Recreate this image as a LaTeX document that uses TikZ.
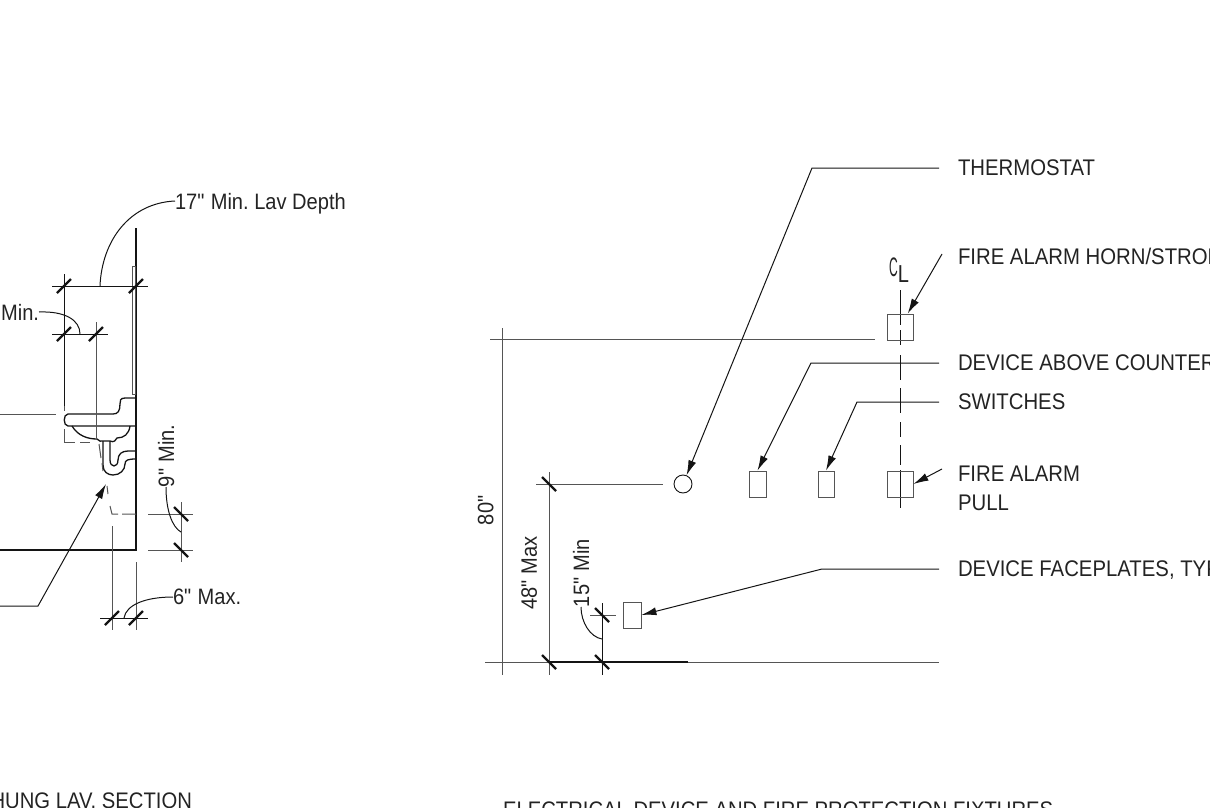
\documentclass[tikz,border=0pt]{standalone}
\usepackage{fontspec}
\setmainfont[FakeStretch=0.9]{Liberation Sans}
\usetikzlibrary{arrows.meta}
\definecolor{inkDark}{RGB}{20, 20, 20}
\definecolor{inkGray}{RGB}{85, 85, 85}
\definecolor{textGray}{RGB}{35, 35, 35}
\newcommand{\qq}{\textquotedbl{}}
\tikzset{
    dimtext/.style={font=\frenchspacing\fontsize{22.3}{26}\selectfont,text=textGray,inner sep=0pt,outer sep=0pt,text depth=0pt},
    captext/.style={dimtext,font=\frenchspacing\fontsize{22.5}{26}\selectfont},
    calltext/.style={dimtext,font=\frenchspacing\fontsize{22.6}{27}\selectfont,anchor=west,inner xsep=19pt},
    thinline/.style={inkDark,line width=1pt},
    extline/.style={inkGray,line width=1pt},
    wallline/.style={inkDark,line width=2pt},
    fixture/.style={inkDark,line width=1.3pt},
    ticks/.style={inkDark,line width=2.4pt},
    leader/.style={thinline,-{Latex[length=15pt,width=8pt]}},
    device/.style={draw=inkGray,line width=0.9pt,rectangle,inner sep=0pt,minimum width=#1,minimum height=26pt},
}
\begin{document}
\begin{tikzpicture}[x=1pt,y=-1pt]
    \useasboundingbox (0,0) rectangle (1210,808);
    \clip (0,0) rectangle (1210,808);

    % Lav section: wall and floor
    \draw[wallline] (136,228) -- (136,550) -- (0,550);
    \draw[extline] (132,266) -- (132,394) -- (135,394) -- (135,266) -- cycle;

    % Lav section: bowl and trap
    \draw[fixture] (136,398) -- (125,398) .. controls (120,398) and (120,401) .. (120,404)
        .. controls (120,411) and (118,414) .. (113,414) -- (68,414)
        .. controls (63,414) and (63,426) .. (68,426) -- (136,426);
    \draw[fixture] (72,426) .. controls (78,436) and (88,439) .. (97,439)
        .. controls (99,441) and (101,442) .. (103,441) -- (110,441)
        .. controls (114,443) and (116,440) .. (117,438)
        .. controls (124,438) and (129,434) .. (130,426);
    \draw[fixture] (103,441) -- (103,465) .. controls (103,472) and (108,475) .. (113,475)
        .. controls (120,475) and (125,470) .. (125,464)
        .. controls (125,460) and (128,459) .. (136,459);
    \draw[fixture] (110,441) -- (110,460) .. controls (110,468) and (118,468) .. (118,460)
        .. controls (118,454) and (122,451) .. (128,451) -- (136,451);

    % Lav section: hidden clearance
    \draw[extline] (64,402) -- (64,411) (64,429) -- (64,442) -- (75,442) (80,442) -- (90,442);
    \draw[extline] (99,444) -- (101,458) (102,463) -- (103,471);
    \draw[extline] (107,486) -- (108,494) (110,506) -- (112,514) -- (118,514) (122,514) -- (136,514);

    % Lav section: dimensions
    \draw[thinline] (52,286) -- (148,286);
    \draw[thinline] (52,334) -- (108,334);
    \draw[inkDark,line width=1pt] (64,274) -- (64,406);
    \draw[extline] (96,322) -- (96,440);
    \draw[extline] (0,414) -- (56,414);
    \draw[extline] (148,514) -- (193,514) (148,550) -- (193,550) (181,502) -- (181,562);
    \draw[extline] (112,526) -- (112,630) (136,562) -- (136,630);
    \draw[thinline] (100,618) -- (148,618);
    \foreach \x/\y in {64/286,136/286,64/334,96/334,112/618,136/618} {
        \draw[ticks] (\x-7,\y+7) -- (\x+7,\y-7);
    }
    \foreach \x/\y in {181/514,181/550} {
        \draw[ticks] (\x-7,\y-7) -- (\x+7,\y+7);
    }

    % Lav section: labels
    \node[dimtext,anchor=west] (depthText) at (175,201) {17\qq{} Min. Lav Depth};
    \node[dimtext,anchor=east] (kneeText) at (39,312) {Min.};
    \node[dimtext,anchor=west,rotate=90] (toeText) at (166,487) {9\qq{} Min.};
    \node[dimtext,anchor=west] (toeDepthText) at (173,597) {6\qq{} Max.};
    \node[captext,anchor=base east] (lavCaption) at (192,808) {HUNG LAV. SECTION};
    \coordinate (depthEnd) at (100,286);
    \coordinate (kneeEnd) at (80,334);
    \coordinate (toeEnd) at (181,532);
    \coordinate (toeDepthEnd) at (124,618);
    \coordinate (clearStart) at (0,606);
    \coordinate (clearBend) at (38,606);
    \coordinate (clearEnd) at (106,484);
    \draw[thinline] (depthText.west) .. controls (130,203) and (102,240) .. (depthEnd);
    \draw[thinline] (kneeText.east) .. controls (65,311) and (80,320) .. (kneeEnd);
    \draw[thinline] (toeText.west) .. controls (166,510) and (172,527) .. (toeEnd);
    \draw[thinline] (toeDepthText.west) .. controls (145,597) and (126,605) .. (toeDepthEnd);
    \draw[leader] (clearStart) -- (clearBend) -- (clearEnd);

    % Device heights: reference lines
    \draw[extline] (490,339) -- (875,339);
    \draw[extline] (502,328) -- (502,675);
    \draw[extline] (485,662) -- (939,662);
    \draw[inkDark,line width=2.2pt] (549,662) -- (688,662);
    \draw[extline] (549,472) -- (549,675);
    \draw[extline] (536,484) -- (663,484);
    \draw[thinline] (602,603) -- (602,675);
    \draw[extline] (590,615) -- (616,615);
    \foreach \x/\y in {549/484,602/615,549/662,602/662} {
        \draw[ticks] (\x-7,\y-7) -- (\x+7,\y+7);
    }

    % Device heights: centre line
    \draw[thinline] (900,290) -- (900,325) (900,330) -- (900,345) (900,355) -- (900,380)
        (900,388) -- (900,413) (900,422) -- (900,437) (900,445) -- (900,465) (900,470) -- (900,508);

    % Devices
    \node[device=26pt] (hornDev) at (900,327) {};
    \node[device=26pt] (pullDev) at (900,484) {};
    \node[device=17pt] (counterDev) at (757.5,484) {};
    \node[device=16pt] (switchDev) at (826,484) {};
    \node[device=18pt] (faceDev) at (632,615) {};
    \node[circle,draw=inkDark,line width=0.9pt,minimum size=18pt,inner sep=0pt] (thermoDev) at (683,484) {};

    % Device heights: labels
    \node[dimtext,rotate=90] (heightText) at (485.5,510) {80\qq{}};
    \node[dimtext,rotate=90] (maxText) at (529,573) {48\qq{} Max};
    \node[dimtext,anchor=west,rotate=90] (minText) at (581,607) {15\qq{} Min};
    \node[dimtext,xscale=0.6,yscale=1.2] (clC) at (893.5,267) {C};
    \node[dimtext,yscale=1.1] (clL) at (903.5,274) {L};
    \node[captext,anchor=base west] (elecCaption) at (503,817) {ELECTRICAL DEVICE AND FIRE PROTECTION FIXTURES};
    \draw[thinline] (minText.west) .. controls (581,622) and (590,637) .. (602,639);

    % Device call outs
    \node[calltext] (thermoText) at (939,168) {THERMOSTAT};
    \node[calltext] (hornText) at (939,256) {FIRE ALARM HORN/STROBE};
    \node[calltext] (counterText) at (939,363) {DEVICE ABOVE COUNTER};
    \node[calltext] (switchText) at (939,402) {SWITCHES};
    \node[calltext,anchor=base west] (pullFirst) at (939,481) {FIRE ALARM};
    \node[calltext,anchor=base west] (pullSecond) at (939,510) {PULL};
    \node[calltext] (faceText) at (939,569) {DEVICE FACEPLATES, TYP};
    \coordinate (hornStart) at (942,254);
    \coordinate (pullStart) at (942,469);
    \draw[leader] (thermoText.west) -- (812,168) -- (thermoDev);
    \draw[leader] (hornStart) -- (hornDev);
    \draw[leader] (counterText.west) -- (811,363) -- (counterDev.north);
    \draw[leader] (switchText.west) -- (857,402) -- (switchDev.north);
    \draw[leader] (pullStart) -- (pullDev.east);
    \draw[leader] (faceText.west) -- (822,569) -- (faceDev.east);
\end{tikzpicture}
\end{document}
